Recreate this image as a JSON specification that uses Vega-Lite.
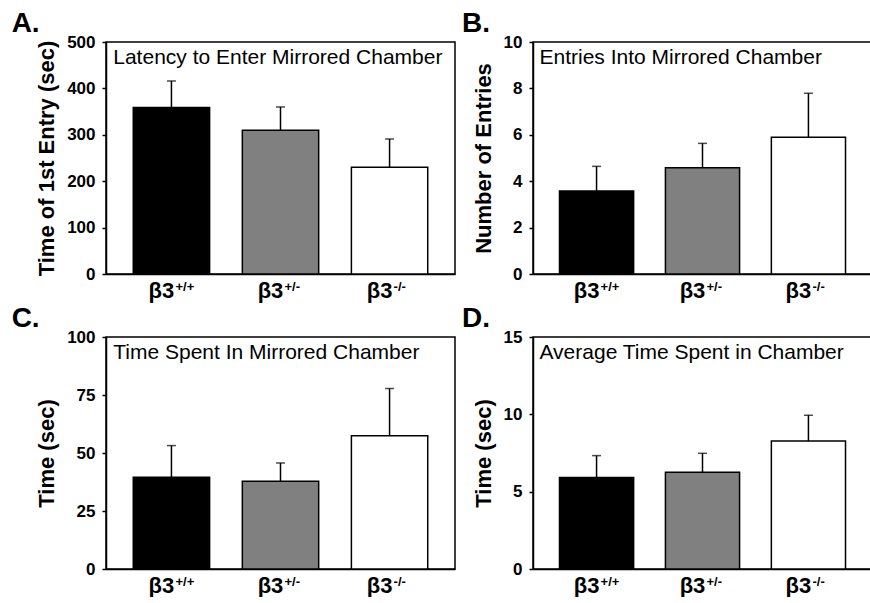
{
  "$schema": "https://vega.github.io/schema/vega-lite/v6.json",
  "padding": {"left": 10, "top": 9, "right": 0, "bottom": 0},
  "background": "white",
  "config": {
    "font": "Liberation Sans",
    "view": {"stroke": "black", "strokeWidth": 1.5},
    "axis": {"grid": false, "domainColor": "black", "domainWidth": 1.5, "tickColor": "black", "tickWidth": 1.5, "tickSize": 4, "labelColor": "black", "titleColor": "black", "labelFont": "Liberation Sans", "titleFont": "Liberation Sans"},
    "axisY": {"labelFontSize": 17, "labelFontWeight": "bold", "labelPadding": 7, "titleFontSize": 22, "titleFontWeight": "bold", "titlePadding": 8},
    "axisX": {"labelFontSize": 22, "labelFontWeight": "bold", "labelPadding": 6, "labelAngle": 0, "ticks": false, "title": null, "labelOffset": -10, "labelExpr": "'β3'"},
    "title": {"font": "Liberation Sans", "fontSize": 28, "fontWeight": "bold", "color": "black", "anchor": "start", "frame": "bounds", "offset": -5}
  },
  "spacing": 2,
  "vconcat": [
    {
      "spacing": 5,
      "hconcat": [
        {
          "title": {"text": "A.", "dx": -24},
          "width": 349, "height": 232,
          "data": {"values": [
            {"genotype": "β3+/+", "sup": "+/+", "mean": 359, "upper": 416},
            {"genotype": "β3+/-", "sup": "+/-", "mean": 310, "upper": 360},
            {"genotype": "β3-/-", "sup": "-/-", "mean": 230, "upper": 291}
          ]},
          "encoding": {"x": {"field": "genotype", "type": "nominal", "sort": null, "scale": {"domain": ["β3+/+", "β3+/-", "β3-/-"], "paddingInner": 0.3, "paddingOuter": 0.25}}},
          "layer": [
            {"mark": {"type": "bar", "stroke": "black", "strokeWidth": 1.5},
             "encoding": {
               "y": {"field": "mean", "type": "quantitative", "scale": {"domain": [0, 500], "nice": false}, "axis": {"values": [0, 100, 200, 300, 400, 500], "title": "Time of 1st Entry (sec)"}},
               "fill": {"field": "genotype", "type": "nominal", "scale": {"domain": ["β3+/+", "β3+/-", "β3-/-"], "range": ["#000000", "#808080", "#ffffff"]}, "legend": null}}},
            {"mark": {"type": "rule", "color": "black", "strokeWidth": 1.5},
             "encoding": {"y": {"field": "mean", "type": "quantitative"}, "y2": {"field": "upper"}}},
            {"mark": {"type": "tick", "color": "black", "size": 9, "thickness": 1.5, "orient": "horizontal"},
             "encoding": {"y": {"field": "upper", "type": "quantitative"}}},
            {"mark": {"type": "text", "fontSize": 13, "fontWeight": "bold", "align": "left", "baseline": "top", "dx": 4, "dy": 7, "color": "black"},
             "encoding": {"y": {"datum": 0, "type": "quantitative"}, "text": {"field": "sup"}}},
            {"data": {"values": [{"genotype": "β3+/+", "label": "Latency to Enter Mirrored Chamber"}]},
             "mark": {"type": "text", "fontSize": 21, "align": "left", "baseline": "alphabetic", "dx": -20, "dy": 22, "color": "black"},
             "encoding": {"x": {"field": "genotype", "type": "nominal", "bandPosition": 0}, "y": {"datum": 500, "type": "quantitative"}, "text": {"field": "label"}}}
          ]
        },
        {
          "title": {"text": "B.", "dx": -10},
          "width": 339, "height": 232,
          "data": {"values": [
            {"genotype": "β3+/+", "sup": "+/+", "mean": 3.58, "upper": 4.64},
            {"genotype": "β3+/-", "sup": "+/-", "mean": 4.58, "upper": 5.63},
            {"genotype": "β3-/-", "sup": "-/-", "mean": 5.89, "upper": 7.79}
          ]},
          "encoding": {"x": {"field": "genotype", "type": "nominal", "sort": null, "scale": {"domain": ["β3+/+", "β3+/-", "β3-/-"], "paddingInner": 0.3, "paddingOuter": 0.25}}},
          "layer": [
            {"mark": {"type": "bar", "stroke": "black", "strokeWidth": 1.5},
             "encoding": {
               "y": {"field": "mean", "type": "quantitative", "scale": {"domain": [0, 10], "nice": false}, "axis": {"values": [0, 2, 4, 6, 8, 10], "title": "Number of Entries"}},
               "fill": {"field": "genotype", "type": "nominal", "scale": {"domain": ["β3+/+", "β3+/-", "β3-/-"], "range": ["#000000", "#808080", "#ffffff"]}, "legend": null}}},
            {"mark": {"type": "rule", "color": "black", "strokeWidth": 1.5},
             "encoding": {"y": {"field": "mean", "type": "quantitative"}, "y2": {"field": "upper"}}},
            {"mark": {"type": "tick", "color": "black", "size": 9, "thickness": 1.5, "orient": "horizontal"},
             "encoding": {"y": {"field": "upper", "type": "quantitative"}}},
            {"mark": {"type": "text", "fontSize": 13, "fontWeight": "bold", "align": "left", "baseline": "top", "dx": 4, "dy": 7, "color": "black"},
             "encoding": {"y": {"datum": 0, "type": "quantitative"}, "text": {"field": "sup"}}},
            {"data": {"values": [{"genotype": "β3+/+", "label": "Entries Into Mirrored Chamber"}]},
             "mark": {"type": "text", "fontSize": 21, "align": "left", "baseline": "alphabetic", "dx": -20, "dy": 22, "color": "black"},
             "encoding": {"x": {"field": "genotype", "type": "nominal", "bandPosition": 0}, "y": {"datum": 10, "type": "quantitative"}, "text": {"field": "label"}}}
          ]
        }
      ]
    },
    {
      "spacing": 5,
      "hconcat": [
        {
          "title": {"text": "C.", "dx": -24},
          "width": 349, "height": 232,
          "data": {"values": [
            {"genotype": "β3+/+", "sup": "+/+", "mean": 39.5, "upper": 53.2},
            {"genotype": "β3+/-", "sup": "+/-", "mean": 37.8, "upper": 45.7},
            {"genotype": "β3-/-", "sup": "-/-", "mean": 57.4, "upper": 77.8}
          ]},
          "encoding": {"x": {"field": "genotype", "type": "nominal", "sort": null, "scale": {"domain": ["β3+/+", "β3+/-", "β3-/-"], "paddingInner": 0.3, "paddingOuter": 0.25}}},
          "layer": [
            {"mark": {"type": "bar", "stroke": "black", "strokeWidth": 1.5},
             "encoding": {
               "y": {"field": "mean", "type": "quantitative", "scale": {"domain": [0, 100], "nice": false}, "axis": {"values": [0, 25, 50, 75, 100], "title": "Time (sec)"}},
               "fill": {"field": "genotype", "type": "nominal", "scale": {"domain": ["β3+/+", "β3+/-", "β3-/-"], "range": ["#000000", "#808080", "#ffffff"]}, "legend": null}}},
            {"mark": {"type": "rule", "color": "black", "strokeWidth": 1.5},
             "encoding": {"y": {"field": "mean", "type": "quantitative"}, "y2": {"field": "upper"}}},
            {"mark": {"type": "tick", "color": "black", "size": 9, "thickness": 1.5, "orient": "horizontal"},
             "encoding": {"y": {"field": "upper", "type": "quantitative"}}},
            {"mark": {"type": "text", "fontSize": 13, "fontWeight": "bold", "align": "left", "baseline": "top", "dx": 4, "dy": 7, "color": "black"},
             "encoding": {"y": {"datum": 0, "type": "quantitative"}, "text": {"field": "sup"}}},
            {"data": {"values": [{"genotype": "β3+/+", "label": "Time Spent In Mirrored Chamber"}]},
             "mark": {"type": "text", "fontSize": 21, "align": "left", "baseline": "alphabetic", "dx": -20, "dy": 22, "color": "black"},
             "encoding": {"x": {"field": "genotype", "type": "nominal", "bandPosition": 0}, "y": {"datum": 100, "type": "quantitative"}, "text": {"field": "label"}}}
          ]
        },
        {
          "title": {"text": "D.", "dx": -10},
          "width": 339, "height": 232,
          "data": {"values": [
            {"genotype": "β3+/+", "sup": "+/+", "mean": 5.91, "upper": 7.33},
            {"genotype": "β3+/-", "sup": "+/-", "mean": 6.26, "upper": 7.48},
            {"genotype": "β3-/-", "sup": "-/-", "mean": 8.27, "upper": 9.94}
          ]},
          "encoding": {"x": {"field": "genotype", "type": "nominal", "sort": null, "scale": {"domain": ["β3+/+", "β3+/-", "β3-/-"], "paddingInner": 0.3, "paddingOuter": 0.25}}},
          "layer": [
            {"mark": {"type": "bar", "stroke": "black", "strokeWidth": 1.5},
             "encoding": {
               "y": {"field": "mean", "type": "quantitative", "scale": {"domain": [0, 15], "nice": false}, "axis": {"values": [0, 5, 10, 15], "title": "Time  (sec)"}},
               "fill": {"field": "genotype", "type": "nominal", "scale": {"domain": ["β3+/+", "β3+/-", "β3-/-"], "range": ["#000000", "#808080", "#ffffff"]}, "legend": null}}},
            {"mark": {"type": "rule", "color": "black", "strokeWidth": 1.5},
             "encoding": {"y": {"field": "mean", "type": "quantitative"}, "y2": {"field": "upper"}}},
            {"mark": {"type": "tick", "color": "black", "size": 9, "thickness": 1.5, "orient": "horizontal"},
             "encoding": {"y": {"field": "upper", "type": "quantitative"}}},
            {"mark": {"type": "text", "fontSize": 13, "fontWeight": "bold", "align": "left", "baseline": "top", "dx": 4, "dy": 7, "color": "black"},
             "encoding": {"y": {"datum": 0, "type": "quantitative"}, "text": {"field": "sup"}}},
            {"data": {"values": [{"genotype": "β3+/+", "label": "Average Time Spent in Chamber"}]},
             "mark": {"type": "text", "fontSize": 21, "align": "left", "baseline": "alphabetic", "dx": -20, "dy": 22, "color": "black"},
             "encoding": {"x": {"field": "genotype", "type": "nominal", "bandPosition": 0}, "y": {"datum": 15, "type": "quantitative"}, "text": {"field": "label"}}}
          ]
        }
      ]
    }
  ]
}
